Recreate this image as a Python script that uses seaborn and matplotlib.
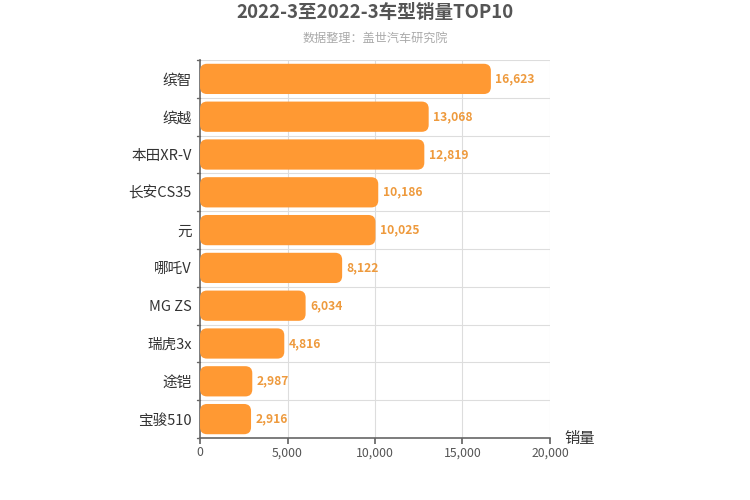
import matplotlib
matplotlib.use('Agg')
import matplotlib.pyplot as plt
import seaborn as sns
import pandas as pd
from matplotlib.patches import FancyBboxPatch

# Données
models = ['缤智', '缤越', '本田XR-V', '长安CS35', '元', '哪吒V', 'MG ZS', '瑞虎3x', '途铠', '宝骏510']
sales = [16623, 13068, 12819, 10186, 10025, 8122, 6034, 4816, 2987, 2916]
x_ticks = [0, 5000, 10000, 15000, 20000]

df = pd.DataFrame({'model': models, 'sales': sales})

sns.set_theme(style='white')
plt.rcParams['font.family'] = ['Noto Sans CJK SC', 'DejaVu Sans']

fig = plt.figure(figsize=(7.5, 5), dpi=100)
ax = fig.add_axes([0.2667, 0.124, 0.4666, 0.756])

sns.barplot(data=df, x='sales', y='model', color='#FF9933', saturation=1,
            width=0.8, ax=ax, zorder=3)

# Remplacer les barres par des rectangles arrondis
x_per_px = 20000 / 350
y_per_px = len(models) / 378
for p in list(ax.patches):
    x0, y0 = p.get_x(), p.get_y()
    w, h = p.get_width(), p.get_height()
    p.set_visible(False)
    r = FancyBboxPatch((x0, y0), w, h,
                       boxstyle=f'round,pad=0,rounding_size={7 * x_per_px}',
                       mutation_aspect=y_per_px / x_per_px,
                       facecolor='#FF9933', edgecolor='none', zorder=3)
    ax.add_patch(r)

for i, v in enumerate(sales):
    ax.text(v + 250, i, f'{v:,}', va='center', ha='left', fontsize=8.7,
            color='#EE9A3D', fontweight='bold', zorder=4)

ax.set_xlim(0, 20000)
ax.set_ylim(len(models) - 0.5, -0.5)
ax.set_xticks(x_ticks)
ax.set_xticklabels([f'{t:,}' for t in x_ticks], fontsize=8.8, color='#555555')
ax.tick_params(axis='y', labelsize=10.5, labelcolor='#333333', length=0, pad=6)
ax.tick_params(axis='x', length=4, color='#666666', direction='out', pad=2)
ax.xaxis.set_ticks_position('bottom')

# Grille: verticales aux graduations, horizontales entre catégories
for t in x_ticks[1:]:
    ax.axvline(t, color='#DDDDDD', lw=0.8, zorder=0)
for k in range(len(models) + 1):
    yb = k - 0.5
    ax.axhline(yb, color='#DDDDDD', lw=0.8, zorder=0)
    ax.plot([-180, 0], [yb, yb], color='#666666', lw=1, clip_on=False, zorder=5)

for s in ['top', 'right']:
    ax.spines[s].set_visible(False)
for s in ['left', 'bottom']:
    ax.spines[s].set_color('#666666')
    ax.spines[s].set_linewidth(1.2)

ax.set_xlabel('')
ax.set_ylabel('')
ax.text(20800, len(models) - 0.5, '销量', fontsize=11, color='#333333',
        ha='left', va='center')

fig.text(0.5, 0.975, '2022-3至2022-3车型销量TOP10', ha='center', va='center',
         fontsize=13.4, fontweight='bold', color='#555555')
fig.text(0.5, 0.924, '数据整理：盖世汽车研究院', ha='center', va='center',
         fontsize=8.7, color='#AAAAAA')

fig.savefig('out.png', dpi=100)
